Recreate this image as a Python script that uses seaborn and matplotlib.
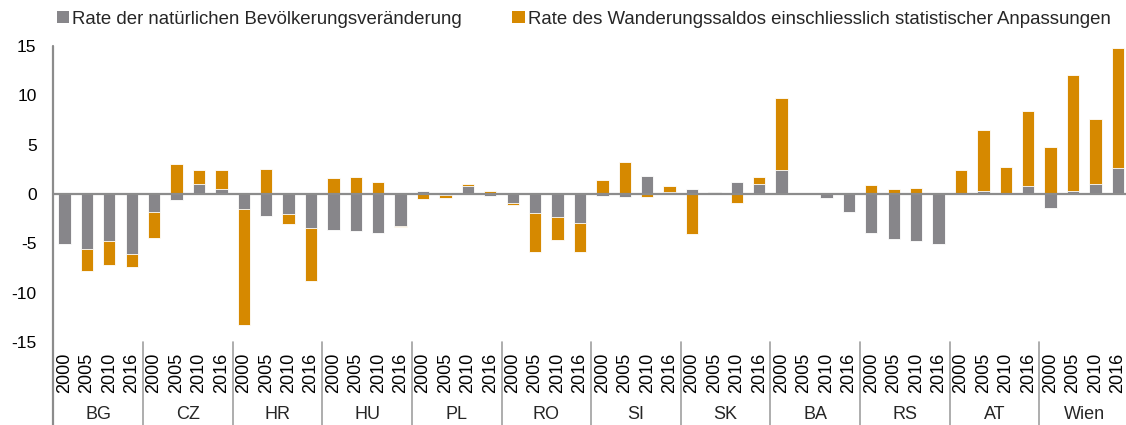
import numpy as np
import pandas as pd
import matplotlib
matplotlib.use("Agg")
import matplotlib.pyplot as plt
import matplotlib.transforms as mtransforms
from matplotlib.patches import Patch
import seaborn as sns

# Daten (pro 1000 Einwohner)
countries = ["BG", "CZ", "HR", "HU", "PL", "RO", "SI", "SK", "BA", "RS", "AT", "Wien"]
years = ["2000", "2005", "2010", "2016"]

natural = [
    -5.1, -5.6, -4.8, -6.1,   # BG
    -1.8, -0.6, 1.0, 0.5,     # CZ
    -1.5, -2.2, -2.0, -3.4,   # HR
    -3.7, -3.8, -4.0, -3.2,   # HU
    0.3, -0.1, 0.8, -0.2,     # PL
    -0.9, -1.9, -2.3, -2.9,   # RO
    -0.2, -0.3, 1.8, 0.2,     # SI
    0.5, 0.2, 1.2, 1.0,       # SK
    2.4, 0.05, -0.4, -1.8,    # BA
    -4.0, -4.6, -4.8, -5.1,   # RS
    0.1, 0.3, 0.1, 0.8,       # AT
    -1.4, 0.3, 1.0, 2.6,      # Wien
]
migration = [
    0.0, -2.2, -2.4, -1.3,
    -2.7, 3.0, 1.4, 1.9,
    -11.8, 2.5, -1.0, -5.4,
    1.6, 1.7, 1.2, -0.1,
    -0.5, -0.3, 0.2, 0.3,
    -0.2, -4.0, -2.4, -3.0,
    1.4, 3.2, -0.3, 0.6,
    -4.1, 0.05, -0.9, 0.7,
    7.3, 0.0, 0.1, 0.0,
    0.9, 0.5, 0.6, 0.0,
    2.3, 6.2, 2.6, 7.6,
    4.8, 11.8, 6.6, 12.2,
]

label_nat = "Rate der natürlichen Bevölkerungsveränderung"
label_mig = "Rate des Wanderungssaldos einschliesslich statistischer Anpassungen"

grey = "#87868a"
orange = "#d68900"
axis_grey = "#8c8c8c"

sns.set_theme(style="white")
plt.rcParams["font.family"] = ["Liberation Sans", "DejaVu Sans"]
plt.rcParams["axes.unicode_minus"] = False

# Tabelle: positive Werte werden nach oben, negative nach unten gestapelt (wie in Excel)
df = pd.DataFrame({
    "slot": [f"{c} {y}" for c in countries for y in years],
    "year": [y for c in countries for y in years],
    "natural": natural,
    "migration": migration,
})
same_sign = np.sign(df["natural"]) == np.sign(df["migration"])
df["mig_end"] = np.where(same_sign, df["natural"] + df["migration"], df["migration"])

fig = plt.figure(figsize=(11.26, 4.25), dpi=100)
ax = fig.add_axes([0.0473, 0.1953, 0.9554, 0.6965])

order = list(df["slot"])
sns.barplot(data=df, x="slot", y="mig_end", order=order, color=orange, saturation=1,
            width=0.55, edgecolor="white", linewidth=0.6, ax=ax, zorder=2)
sns.barplot(data=df, x="slot", y="natural", order=order, color=grey, saturation=1,
            width=0.55, edgecolor="white", linewidth=0.6, ax=ax, zorder=2)

ax.axhline(0, color=axis_grey, lw=1.6, zorder=3)
ax.set_ylim(-15, 15)
ax.set_xlim(-0.5, len(order) - 0.5)
ax.set_yticks([-15, -10, -5, 0, 5, 10, 15])
ax.tick_params(axis="y", length=0, pad=12, labelsize=12.5, colors="black")
ax.set_xticks(range(len(order)))
ax.set_xticklabels(df["year"], rotation=90, fontsize=13, va="top")
ax.tick_params(axis="x", length=0, pad=8, colors="black")
ax.set_xlabel("")
ax.set_ylabel("")
for s in ax.spines.values():
    s.set_visible(False)

# linke Achse und Gruppentrennlinien
trans = mtransforms.blended_transform_factory(ax.transData, ax.transAxes)
ax.plot([-0.5, -0.5], [1.0, -0.35], transform=trans, color=axis_grey, lw=1.6, clip_on=False)
for i in range(1, len(countries)):
    xb = i * len(years) - 0.5
    ax.plot([xb, xb], [0.0, -0.35], transform=trans, color="#a0a0a0", lw=1.2, clip_on=False)
for i, c in enumerate(countries):
    xc = i * len(years) + (len(years) - 1) / 2
    ax.text(xc, -0.274, c, transform=trans, ha="center", va="bottom", fontsize=13)

handles = [Patch(facecolor=grey, edgecolor="none"), Patch(facecolor=orange, edgecolor="none")]
fig.legend(handles, [label_nat, label_mig], loc="upper left", bbox_to_anchor=(0.0503, 0.975),
           ncol=2, frameon=False, fontsize=13.4, handlelength=0.65, handleheight=0.65,
           handletextpad=0.2, columnspacing=2.7, borderpad=0, borderaxespad=0)

fig.savefig("out.png", dpi=100)
